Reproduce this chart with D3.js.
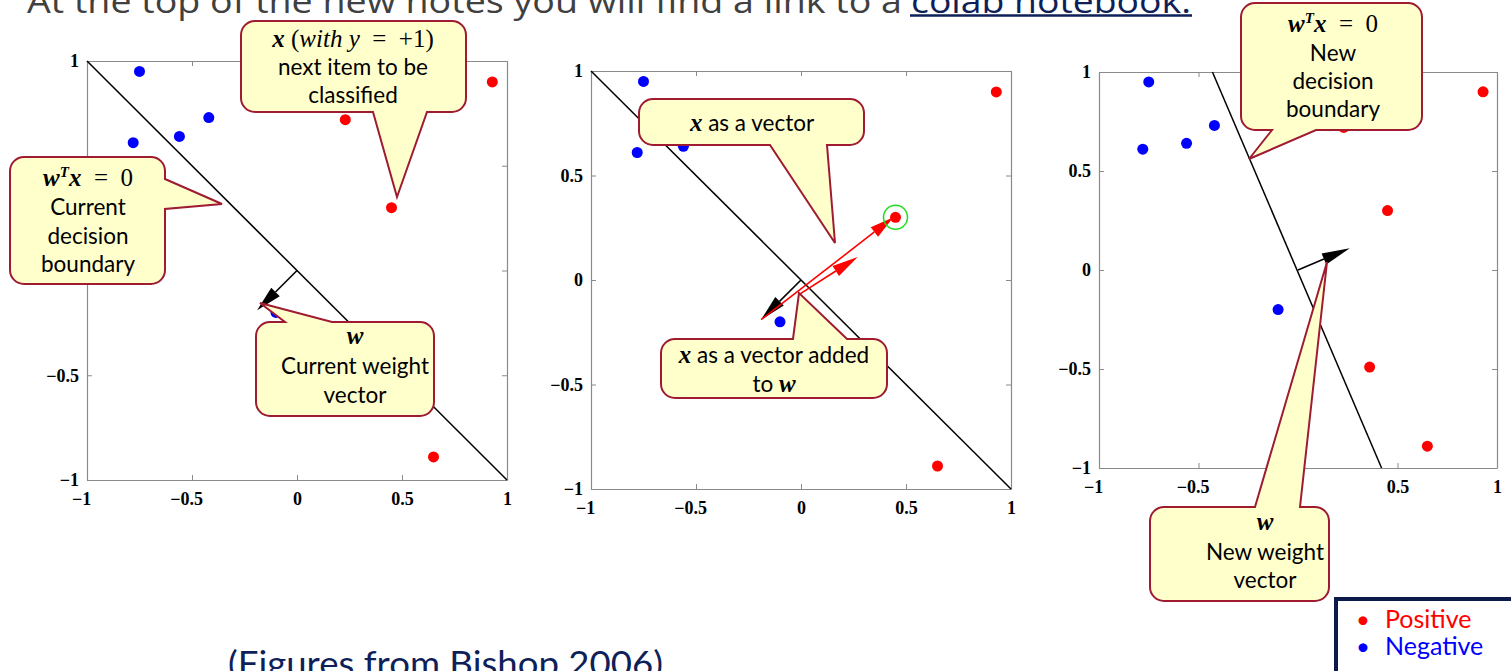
<!DOCTYPE html>
<html>
<head>
<meta charset="utf-8">
<script src="https://cdn.jsdelivr.net/npm/d3@7"></script>
<style>
  body { margin: 0; background: #fff; overflow: hidden; }
  svg { display: block; }
</style>
</head>
<body>
<script>
// data (same points in each)
const tickVals = [-1, -0.5, 0, 0.5, 1];
const posX = [0.93, 0.23, 0.45, 0.36, 0.65];
const posY = [0.90, 0.72, 0.30, -0.49, -0.89];
const negX = [-0.75, -0.78, -0.56, -0.42, -0.10];
const negY = [0.95, 0.61, 0.64, 0.73, -0.20];
const boundaryOld = [[-1, 1], [1, -1]];
const boundaryNew = [[-0.43, 1], [0.42, -1]];
const wOld = [-0.19, -0.19];
const wNew = [0.26, 0.11];
const xPoint = [0.45, 0.30];         // the circled item
const xLong = [[-0.19, -0.19], [0.44, 0.30]];
const xShort = [[-0.01, -0.07], [0.27, 0.11]];

const W = 1511, H = 671;
const RED = "#ff0000", BLUE = "#0000ff";
const FILL = "#ffffcc", EDGE = "#9e1b32";
const SANS = "Lato, 'Open Sans', sans-serif";
const SERIF = "'Liberation Serif', 'DejaVu Serif', serif";

const svg = d3.select("body").append("svg")
  .attr("width", W).attr("height", H);

// panel frames (pixels)
const panels = [
  { left: 87,   top: 61, w: 420, h: 419, boundary: boundaryOld },
  { left: 591,  top: 71, w: 420, h: 418, boundary: boundaryOld },
  { left: 1099, top: 72, w: 398, h: 396, boundary: boundaryNew }
];

const fmt = d => d < 0 ? "\u2212" + Math.abs(d) : String(d);

function arrow(g, x, y, p0, p1, color, len, hw) {
  const x0 = x(p0[0]), y0 = y(p0[1]), x1 = x(p1[0]), y1 = y(p1[1]);
  const dx = x1 - x0, dy = y1 - y0, d = Math.hypot(dx, dy);
  const ux = dx / d, uy = dy / d;
  const bx = x1 - ux * len, by = y1 - uy * len;
  g.append("line")
    .attr("x1", x0).attr("y1", y0).attr("x2", bx).attr("y2", by)
    .attr("stroke", color).attr("stroke-width", 1.6);
  g.append("path")
    .attr("d", `M${x1},${y1}L${bx - uy * hw},${by + ux * hw}L${bx + uy * hw},${by - ux * hw}Z`)
    .attr("fill", color);
}

panels.forEach((p, i) => {
  const x = d3.scaleLinear().domain([-1, 1]).range([p.left, p.left + p.w]);
  const y = d3.scaleLinear().domain([-1, 1]).range([p.top + p.h, p.top]);
  const g = svg.append("g");

  const axes = [
    [d3.axisBottom(x).tickFormat(fmt).tickPadding(12), `translate(0,${p.top + p.h})`, "xb"],
    [d3.axisTop(x).tickFormat(""), `translate(0,${p.top})`, "xt"],
    [d3.axisLeft(y).tickFormat(fmt).tickPadding(8), `translate(${p.left},0)`, "yl"],
    [d3.axisRight(y).tickFormat(""), `translate(${p.left + p.w},0)`, "yr"]
  ];
  axes.forEach(([ax, tr, cls]) => {
    const a = g.append("g").attr("class", cls).attr("transform", tr)
      .call(ax.tickValues(tickVals).tickSize(-5).tickSizeOuter(0));
    a.select(".domain").attr("stroke", "#8a8a8a").attr("stroke-width", 1.2);
    a.selectAll(".tick line").attr("stroke", "#8a8a8a");
    a.selectAll("text")
      .attr("font-family", SERIF).attr("font-weight", "bold")
      .attr("font-size", 18).attr("fill", "#000");
    // MATLAB centres the digits and lets the minus hang left
    if (cls === "xb") a.selectAll("text").attr("dx", d => d < 0 ? -6 : 0);
  });

  g.append("line")
    .attr("x1", x(p.boundary[0][0])).attr("y1", y(p.boundary[0][1]))
    .attr("x2", x(p.boundary[1][0])).attr("y2", y(p.boundary[1][1]))
    .attr("stroke", "#000").attr("stroke-width", 1.5);

  g.selectAll(".pos").data(posX).join("circle")
    .attr("cx", d => x(d)).attr("cy", (d, j) => y(posY[j]))
    .attr("r", 5.5).attr("fill", RED);
  g.selectAll(".neg").data(negX).join("circle")
    .attr("cx", d => x(d)).attr("cy", (d, j) => y(negY[j]))
    .attr("r", 5.5).attr("fill", BLUE);

  if (i === 0) arrow(g, x, y, [0, 0], wOld, "#000", 26, 6);
  if (i === 1) {
    arrow(g, x, y, [0, 0], wOld, "#000", 26, 6);
    arrow(g, x, y, xLong[0], xLong[1], RED, 24, 6);
    arrow(g, x, y, xShort[0], xShort[1], RED, 26, 6);
    g.append("circle").attr("cx", x(xPoint[0])).attr("cy", y(xPoint[1]))
      .attr("r", 12).attr("fill", "none").attr("stroke", "#22dd22").attr("stroke-width", 1.5);
  }
  if (i === 2) arrow(g, x, y, [0, 0], wNew, "#000", 28, 6);
});

// callouts: rounded box with a pointer leaving one side
function calloutPath(c) {
  const { x, y, w, h } = c, r = 14;
  const a = Math.min(c.a, c.b), b = Math.max(c.a, c.b);
  const t = c.tip.join(",");
  let s = `M${x + r},${y}`;
  s += c.side === "top" ? `H${a}L${t}L${b},${y}H${x + w - r}` : `H${x + w - r}`;
  s += `A${r},${r} 0 0 1 ${x + w},${y + r}`;
  s += c.side === "right" ? `V${a}L${t}L${x + w},${b}V${y + h - r}` : `V${y + h - r}`;
  s += `A${r},${r} 0 0 1 ${x + w - r},${y + h}`;
  s += c.side === "bottom" ? `H${b}L${t}L${a},${y + h}H${x + r}` : `H${x + r}`;
  s += `A${r},${r} 0 0 1 ${x},${y + h - r}V${y + r}A${r},${r} 0 0 1 ${x + r},${y}Z`;
  return s;
}

const bx = (t) => ({ t, f: "bx" });   // bold italic math
const it = (t) => ({ t, f: "it" });   // italic math
const rm = (t) => ({ t, f: "rm" });   // upright math
const sup = (t) => ({ t, f: "sup" });
const sans = (t) => ({ t, f: "sans" });
const wtx = [bx("w"), sup("T"), bx("x"), rm("  =  0")];

const callouts = [
  { x: 241, y: 21, w: 225, h: 91, side: "bottom", a: 373, b: 427, tip: [397, 197], cx: 353,
    lines: [[bx("x"), rm(" ("), it("with y"), rm("  =  +1)")], "next item to be", "classified"],
    base: [47, 75, 103] },
  { x: 10, y: 157, w: 155, h: 127, side: "right", a: 179, b: 209, tip: [222, 204], cx: 88,
    lines: [wtx, "Current", "decision", "boundary"], base: [186, 215, 244, 272] },
  { x: 256, y: 322, w: 178, h: 94, side: "top", a: 285, b: 332, tip: [260, 303], cx: 355,
    lines: [[bx("w")], "Current weight", "vector"], base: [344, 374, 403] },
  { x: 639, y: 99, w: 225, h: 46, side: "bottom", a: 770, b: 827, tip: [835, 243], cx: 752,
    lines: [[bx("x"), sans(" as a vector")]], base: [131] },
  { x: 661, y: 339, w: 226, h: 59, side: "top", a: 793, b: 847, tip: [799, 293], cx: 774,
    lines: [[bx("x"), sans(" as a vector added")], [sans("to "), bx("w")]],
    base: [363, 392] },
  { x: 1241, y: 3, w: 181, h: 127, side: "bottom", a: 1272, b: 1316, tip: [1249, 159], cx: 1333,
    lines: [wtx, "New", "decision", "boundary"], base: [32, 61, 89, 117] },
  { x: 1150, y: 507, w: 179, h: 94, side: "top", a: 1255, b: 1300, tip: [1327, 262], cx: 1265,
    lines: [[bx("w")], "New weight", "vector"], base: [530, 560, 588] }
];

const cg = svg.append("g");
callouts.forEach(c => {
  cg.append("path").attr("d", calloutPath(c))
    .attr("fill", FILL).attr("stroke", EDGE).attr("stroke-width", 2)
    .attr("stroke-linejoin", "miter");
  c.lines.forEach((ln, k) => {
    const txt = cg.append("text").attr("x", c.cx).attr("y", c.base[k])
      .attr("text-anchor", "middle").attr("fill", "#000").attr("font-size", 22.5)
      .style("white-space", "pre");
    if (typeof ln === "string") {
      txt.attr("font-family", SANS).text(ln);
      return;
    }
    const hasSup = ln.some(q => q.f === "sup");
    ln.forEach(s => {
      const ts = txt.append("tspan").text(s.t);
      ts.attr("font-family", s.f === "sans" ? SANS : SERIF);
      if (s.f !== "sans") ts.attr("font-size", 25);
      if (s.f === "bx" || s.f === "sup") ts.attr("font-weight", "bold").attr("font-style", "italic");
      if (s.f === "it") ts.attr("font-style", "italic");
      if (s.f === "sup") ts.attr("font-size", 15).attr("dy", -9);
      if (hasSup && s.f === "bx" && s.t === "x") ts.attr("dy", 9);
    });
  });
});

// title line, cut by the top edge
svg.append("text").attr("x", 27).attr("y", 13)
  .attr("font-family", "'Open Sans', sans-serif").attr("font-size", 32).attr("fill", "#404040")
  .attr("textLength", 875).attr("lengthAdjust", "spacingAndGlyphs")
  .text("At the top of the new notes you will find a link to a");
svg.append("text").attr("x", 911).attr("y", 13)
  .attr("font-family", "'Open Sans', sans-serif").attr("font-size", 32).attr("fill", "#0f1f5a")
  .attr("textLength", 280).attr("lengthAdjust", "spacingAndGlyphs")
  .text("colab notebook.");
svg.append("line").attr("x1", 910).attr("x2", 1192).attr("y1", 15.5).attr("y2", 15.5)
  .attr("stroke", "#0f1f5a").attr("stroke-width", 2.5);

// legend box
const legend = svg.append("g");
legend.append("rect").attr("x", 1336).attr("y", 599).attr("width", 190).attr("height", 90)
  .attr("fill", "#fff").attr("stroke", "#0b1a4a").attr("stroke-width", 4);
const legendLabels = ["Positive", "Negative"];
const legendColors = [RED, BLUE];
legendLabels.forEach((lab, k) => {
  legend.append("text").attr("x", 1356).attr("y", 628 + k * 27)
    .attr("font-family", SANS).attr("font-size", 24).attr("fill", legendColors[k])
    .text("\u2022");
  legend.append("text").attr("x", 1385).attr("y", 628 + k * 27)
    .attr("font-family", SANS).attr("font-size", 25).attr("fill", legendColors[k])
    .text(lab);
});

svg.append("text").attr("x", 228).attr("y", 676)
  .attr("font-family", SANS).attr("font-size", 34).attr("fill", "#0f1f5a")
  .attr("textLength", 435).attr("lengthAdjust", "spacingAndGlyphs")
  .text("(Figures from Bishop 2006)");
</script>
</body>
</html>
